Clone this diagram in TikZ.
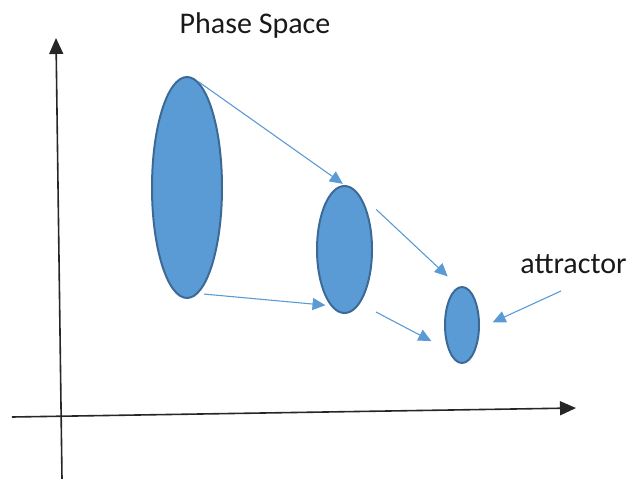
\documentclass[tikz,border=0pt]{standalone}
\usepackage{fontspec}
\setmainfont{Carlito}
\usetikzlibrary{shapes.geometric,arrows.meta}

\definecolor{cellblue}{HTML}{5B9BD5}
\definecolor{celledge}{HTML}{3C6A96}

\tikzset{
  cell/.style={ellipse, draw=celledge, line width=2pt, fill=cellblue, inner sep=0pt},
  flow/.style={draw=cellblue, line width=1.1pt, -{Triangle[length=13pt,width=12pt]}},
  axis/.style={draw=black!85, line width=1.6pt, -{Triangle[length=16pt,width=14pt]}},
  caption/.style={anchor=base, text=black!90, font=\fontsize{30}{36}\selectfont}
}

\begin{document}
\begin{tikzpicture}[x=1pt,y=-1pt]
\useasboundingbox (0,0) rectangle (632,479);

% axes
\coordinate (ybot) at (62,479);
\coordinate (ytop) at (56,38);
\coordinate (xleft) at (12,417);
\coordinate (xright) at (576,408);
\draw[axis] (ybot) -- (ytop);
\draw[axis] (xleft) -- (xright);

% the three volumes
\node[cell, minimum width=70pt, minimum height=221pt] (big) at (187,187.5) {};
\node[cell, minimum width=55pt, minimum height=127pt] (mid) at (344.5,249.5) {};
\node[cell, minimum width=34pt, minimum height=76pt] (small) at (462,325) {};

\node[caption] (title) at (255,33) {Phase Space};
\node[caption] (attr) at (573.5,273) {attractor};
\coordinate (attrtail) at (561,291);

% contraction
\draw[flow, shorten >=2pt] (big.84) -- (mid.north);
\draw[flow, shorten <=6pt, shorten >=5pt] (big.-84) -- (mid.256);
\draw[flow, shorten <=29pt, shorten >=15pt] (mid.80) -- (small.95);
\draw[flow, shorten <=18pt, shorten >=19pt] (mid.-74) -- (small.241);
\draw[flow, shorten >=14pt] (attrtail) -- (small.-10);
\end{tikzpicture}
\end{document}
